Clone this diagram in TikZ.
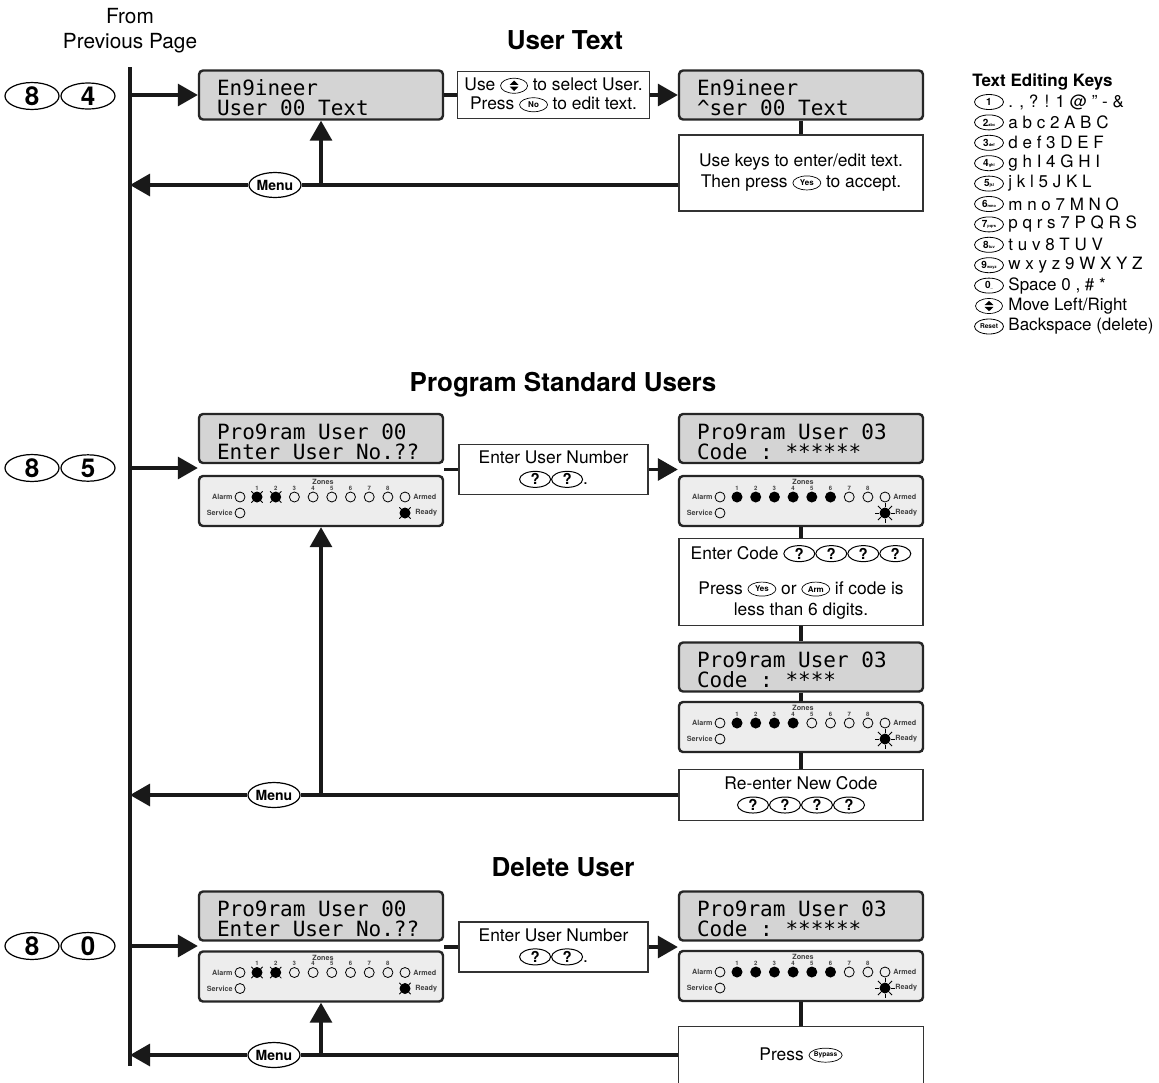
\documentclass[tikz,border=0pt]{standalone}
\usepackage{fontspec}
\setmainfont{TeX Gyre Heros}
\newfontfamily\lcdfont{DejaVu Sans Mono}
\newcommand{\lcdsetup}{\lcdfont\fontsize{10.5}{10}\selectfont}
\newcommand{\lsp}{\hspace*{0.602em}} % one display cell
\usetikzlibrary{arrows.meta,shapes.geometric}

% small keys inside the text
\newcommand{\kbtn}[2][4]{\tikz[baseline=-0.55ex]\node[draw,ellipse,line width=0.35pt,inner sep=0pt,minimum width=14pt,minimum height=7pt,font=\fontsize{#1}{#1}\selectfont\bfseries]{#2};}
\newcommand{\qkey}{\tikz[baseline=-0.6ex]\node[draw,ellipse,line width=0.5pt,inner sep=0pt,minimum width=15.5pt,minimum height=8pt,font=\fontsize{7.5}{7.5}\selectfont\bfseries]{?};}
\newcommand{\updown}{\tikz[baseline=-0.55ex]{\node[draw,ellipse,line width=0.35pt,inner sep=0pt,minimum width=13.5pt,minimum height=7.5pt]{};
  \fill (-2.2pt,0.45pt) -- (2.2pt,0.45pt) -- (0pt,2.6pt) -- cycle;
  \fill (-2.2pt,-0.45pt) -- (2.2pt,-0.45pt) -- (0pt,-2.6pt) -- cycle;}}

% one LED: o off, s on, f flashing, r ready on
\newcommand{\myled}[2]{%
  \if#2o\node[ledoff] at (#1) {};\fi
  \if#2s\node[ledon] at (#1) {};\fi
  \if#2f\node[ledon] at (#1) {};\foreach \a in {45,135,225,315}{\draw[ledray] (#1) ++(\a:5.5) -- ++(\a:2.5);}\fi
  \if#2r\node[ledon] at (#1) {};\foreach \a in {0,45,...,315}{\draw[ledray] (#1) ++(\a:6) -- ++(\a:4);}\fi}

% keypad LED panel: #1 name, #2 centre, #3 zones, #4 ready
\newcommand{\ledpanel}[4]{%
  \node[mypanel] (#1) at (#2) {};
  \begin{scope}[shift={(#2)}]
    \node[ledtxt] at (2,-19) {Zones};
    \node[ledtxt, anchor=east] at (-88,-4) {Alarm};
    \node[ledtxt, anchor=east] at (-88,12) {Service};
    \node[ledtxt, anchor=west] at (92,-4) {Armed};
    \node[ledtxt, anchor=west] at (94,12) {Ready};
    \myled{-81,-4}{o} \myled{-81,12}{o} \myled{84,-4}{o} \myled{84,12}{#4}
    \foreach \s [count=\z] in {#3} {
      \pgfmathsetmacro{\zx}{-64+18.7*(\z-1)}
      \node[ledtxt, font=\fontsize{3}{3}\selectfont\bfseries] at (\zx,-13) {\z};
      \myled{\zx,-4}{\s}
    }
  \end{scope}}

\begin{document}
\begin{tikzpicture}[x=0.5pt,y=-0.5pt] % pixel grid of the page
\tikzstyle{mylcd} = [draw=black!85, line width=1.2pt, fill=black!17, rounded corners=2pt, minimum width=122pt, minimum height=24.5pt, text width=104pt, inner xsep=9pt, inner ysep=1pt, text height=10.6pt, text depth=10pt, align=left, font=\lcdsetup] % display
\tikzstyle{mypanel} = [draw=black!85, line width=1.2pt, fill=black!7, rounded corners=2pt, minimum width=122pt, minimum height=25pt] % LED panel
\tikzstyle{mybox} = [draw=black!80, line width=0.6pt, fill=white, align=center, font=\fontsize{8.7}{10.5}\selectfont] % text box
\tikzstyle{mykey} = [draw, ellipse, line width=0.6pt, inner sep=0pt, minimum width=27pt, minimum height=13pt, font=\fontsize{13}{13}\selectfont\bfseries]
\tikzstyle{mysmallkey} = [draw, ellipse, line width=0.4pt, inner sep=0pt, minimum width=14.5pt, minimum height=7.5pt, font=\fontsize{5}{5}\selectfont\bfseries]
\tikzstyle{mymenu} = [draw, ellipse, line width=0.6pt, fill=white, inner sep=0pt, minimum width=26pt, minimum height=12.5pt, font=\fontsize{7}{7}\selectfont\bfseries]
\tikzstyle{myhead} = [font=\fontsize{13}{15}\selectfont\bfseries]
\tikzstyle{mylegend} = [anchor=west, inner sep=0pt, font=\fontsize{8.5}{10}\selectfont]
\tikzstyle{myline} = [line width=1.6pt, black!90]
\tikzstyle{myarrow} = [myline, -{Triangle[length=10pt,width=11pt]}]
\tikzstyle{ledtxt} = [inner sep=0pt, text=black!75, font=\fontsize{3.6}{4}\selectfont\bfseries]
\tikzstyle{ledoff} = [circle, draw, line width=0.4pt, inner sep=0pt, minimum size=5pt]
\tikzstyle{ledon} = [circle, fill, inner sep=0pt, minimum size=5.5pt]
\tikzstyle{ledray} = [line width=0.4pt]

\useasboundingbox (0,0) rectangle (1159,1082);

\coordinate (bustop) at (130,67);
\coordinate (busend) at (130,1066);
\draw[myline] (bustop) -- (busend); % main line
\node[align=center, font=\fontsize{10.4}{12.5}\selectfont] (from) at (130,31) {From\\Previous Page};

% User Text
\node[myhead] (h1) at (565,40) {User Text};
\node[mykey] (k84a) at (32,96) {8};
\node[mykey] (k84b) at (88,96) {4};
\node[mylcd] (eng1) at (321,95) {En9ineer\\User\lsp 00\lsp Text};
\node[mybox, minimum width=93.5pt, minimum height=22.5pt, font=\fontsize{8.7}{9.5}\selectfont] (sel) at (553.5,95) {Use \updown\ to select User.\\Press \kbtn{No} to edit text.};
\node[mylcd] (eng2) at (801,95) {En9ineer\\\textasciicircum{}ser\lsp 00\lsp Text};
\node[mybox, minimum width=122pt, minimum height=38pt] (edit) at (801,173) {Use keys to enter/edit text.\\Then press \kbtn{Yes} to accept.};
\node[mymenu] (menu1) at (275,185) {Menu};
\draw[myarrow] (bustop |- eng1) -- (eng1.west);
\draw[myline] (eng1.east) -- (sel.west);
\draw[myarrow] (sel.east) -- (eng2.west);
\draw[myline] (eng2.south) -- (edit.north);
\draw[myline] (edit.west |- menu1) -- (menu1.east);
\draw[myarrow] (menu1.west) -- (bustop |- menu1);
\draw[myarrow] (eng1.south |- menu1) -- (eng1.south);

% Program Standard Users
\node[myhead] (h2) at (563,385) {Program Standard Users};
\node[mykey] (k85a) at (32,468) {8};
\node[mykey] (k85b) at (88,468) {5};
\node[mylcd] (pu1) at (321,438.5) {Pro9ram\lsp User\lsp 00\\Enter\lsp User\lsp No.??};
\ledpanel{pl1}{321,501}{f,f,o,o,o,o,o,o}{f}
\node[mybox, minimum width=94.5pt, minimum height=22.5pt] (num1) at (553.5,469.5) {Enter User Number\\\qkey\qkey.};
\node[mylcd] (pu2) at (801,438.5) {Pro9ram\lsp User\lsp 03\\Code\lsp :\lsp ******};
\ledpanel{pl2}{801,501}{s,s,s,s,s,s,o,o}{r}
\node[mybox, minimum width=122pt, minimum height=43pt] (code) at (801,582) {Enter Code \qkey\qkey\qkey\qkey\\[7pt]Press \kbtn{Yes} or \kbtn{Arm} if code is\\less than 6 digits.};
\node[mylcd] (pu3) at (801,667) {Pro9ram\lsp User\lsp 03\\Code\lsp :\lsp ****};
\ledpanel{pl3}{801,727}{s,s,s,s,o,o,o,o}{r}
\node[mybox, minimum width=122pt, minimum height=25pt] (renew) at (801,795) {Re-enter New Code\\\qkey\qkey\qkey\qkey};
\node[mymenu] (menu2) at (274,795) {Menu};
\draw[myarrow] (bustop |- k85b) -- (pu1.west |- k85b);
\draw[myline] (pu1.east |- num1) -- (num1.west);
\draw[myarrow] (num1.east) -- (pu2.west |- num1);
\draw[myline] (pl2.south) -- (code.north);
\draw[myline] (code.south) -- (pu3.north);
\draw[myline] (pu3.south) -- (pl3.north);
\draw[myline] (pl3.south) -- (renew.north);
\draw[myline] (renew.west) -- (menu2.east);
\draw[myarrow] (menu2.west) -- (bustop |- menu2);
\draw[myarrow] (pl1.south |- menu2) -- (pl1.south);

% Delete User
\node[myhead] (h3) at (563,867) {Delete User};
\node[mykey] (k80a) at (32,946) {8};
\node[mykey] (k80b) at (88,946) {0};
\node[mylcd] (del1) at (321,916) {Pro9ram\lsp User\lsp 00\\Enter\lsp User\lsp No.??};
\ledpanel{pl4}{321,976.5}{f,f,o,o,o,o,o,o}{f}
\node[mybox, minimum width=94.5pt, minimum height=22.5pt] (num2) at (553.5,947) {Enter User Number\\\qkey\qkey.};
\node[mylcd] (del2) at (801,916) {Pro9ram\lsp User\lsp 03\\Code\lsp :\lsp ******};
\ledpanel{pl5}{801,976}{s,s,s,s,s,s,o,o}{r}
\node[mybox, draw=none, minimum width=122pt, minimum height=28pt] (press) at (801,1055) {Press \kbtn[3.3]{Bypass}};
\draw[black!80, line width=0.6pt] (press.south west) -- (press.north west) -- (press.north east) -- (press.south east);
\node[mymenu] (menu3) at (274,1055) {Menu};
\draw[myarrow] (bustop |- k80b) -- (del1.west |- k80b);
\draw[myline] (del1.east |- num2) -- (num2.west);
\draw[myarrow] (num2.east) -- (del2.west |- num2);
\draw[myline] (pl5.south) -- (press.north);
\draw[myline] (press.west) -- (menu3.east);
\draw[myarrow] (menu3.west) -- (busend |- menu3);
\draw[myarrow] (pl4.south |- menu3) -- (pl4.south);

% Text Editing Keys
\node[mylegend, font=\fontsize{8.5}{10}\selectfont\bfseries] (keys) at (972,82) {Text Editing Keys};
\foreach \d/\l/\t [count=\i] in {1/{}/{. , ? ! 1 @ ” - \&}, 2/abc/{a b c 2 A B C}, 3/def/{d e f 3 D E F}, 4/ghi/{g h I 4 G H I}, 5/jkl/{j k l 5 J K L}, 6/mno/{m n o 7 M N O}, 7/pqrs/{p q r s 7 P Q R S}, 8/tuv/{t u v 8 T U V}, 9/wxyz/{w x y z 9 W X Y Z}, 0/{\_}/{Space 0 , \# *}} {
  \node[mysmallkey] (t\i) at (989,{102+20.4*(\i-1)}) {\d{\fontsize{2}{2}\selectfont\l}};
  \node[mylegend] (d\i) at (1008,{102+20.4*(\i-1)}) {\t};
}
\node[inner sep=0pt] (t11) at (989,306) {\updown};
\node[mylegend] (d11) at (1008,306) {Move Left/Right};
\node[mysmallkey, font=\fontsize{3.3}{3.3}\selectfont\bfseries] (t12) at (989,326.5) {Reset};
\node[mylegend] (d12) at (1008,326.5) {Backspace (delete)};
\end{tikzpicture}
\end{document}
